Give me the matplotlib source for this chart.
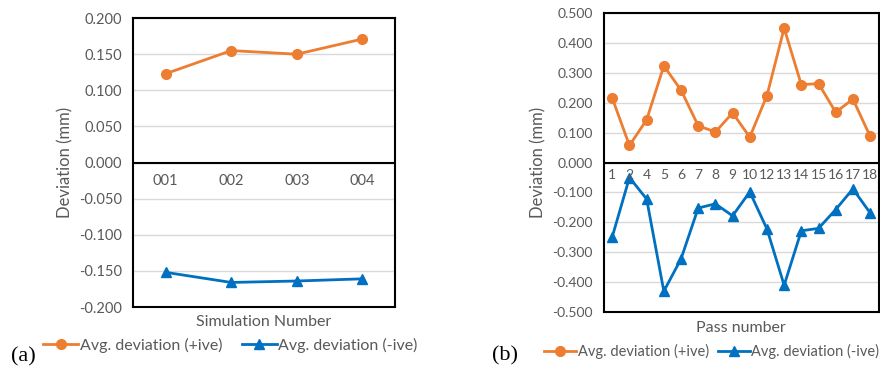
import matplotlib.pyplot as plt

# -------- DATA --------
sim_labels = ["001", "002", "003", "004"]
sim_pos = [0.123, 0.155, 0.150, 0.171]
sim_neg = [-0.152, -0.166, -0.164, -0.161]

pass_labels = ["1", "2", "4", "5", "6", "7", "8", "9", "10",
               "12", "13", "14", "15", "16", "17", "18"]
pass_pos = [0.215, 0.057, 0.143, 0.323, 0.242, 0.123, 0.102, 0.166, 0.085,
            0.224, 0.449, 0.260, 0.264, 0.168, 0.212, 0.088]
pass_neg = [-0.248, -0.050, -0.122, -0.430, -0.322, -0.152, -0.138, -0.178, -0.098,
            -0.222, -0.410, -0.228, -0.220, -0.157, -0.088, -0.168]

# -------- STYLE --------
ORANGE = "#ED7D31"
BLUE = "#0070C0"
GRAY = "#595959"
plt.rcParams["font.family"] = ["Lato", "DejaVu Sans"]

fig = plt.figure(figsize=(8.8, 3.69), dpi=100)


def draw_panel(ax, labels, pos, neg, ylim, step, xlabel, fs, cat_off):
    x = list(range(len(labels)))
    ax.plot(x, pos, color=ORANGE, lw=2, marker="o", ms=7, label="Avg. deviation (+ive)", zorder=3)
    ax.plot(x, neg, color=BLUE, lw=2, marker="^", ms=7, label="Avg. deviation (-ive)", zorder=3)
    ax.set_xlim(-0.5, len(labels) - 0.5)
    ax.set_ylim(*ylim)
    n = int(round((ylim[1] - ylim[0]) / step))
    ticks = [round(ylim[0] + i * step, 3) for i in range(n + 1)]
    ax.set_yticks(ticks)
    ax.set_yticklabels([f"{abs(t):.3f}" if abs(t) < 1e-9 else f"{t:.3f}" for t in ticks],
                       color=GRAY, fontsize=fs)
    ax.yaxis.grid(True, color="#d9d9d9", lw=1)
    ax.set_axisbelow(True)
    ax.tick_params(axis="y", length=0, pad=8)
    ax.set_xticks([])
    ax.axhline(0, color="black", lw=1.5, zorder=2)
    for s in ax.spines.values():
        s.set_color("black")
        s.set_linewidth(1.5)
    for i, lab in enumerate(labels):
        ax.annotate(lab, (i, 0), xytext=(0, -cat_off), textcoords="offset points",
                    ha="center", va="top", color=GRAY, fontsize=fs)
    ax.set_ylabel("Deviation (mm)", color=GRAY, fontsize=12)
    ax.set_xlabel(xlabel, color=GRAY, fontsize=11.5, labelpad=6)


ax1 = fig.add_axes([0.151, 0.168, 0.298, 0.783])
draw_panel(ax1, sim_labels, sim_pos, sim_neg, (-0.2, 0.2), 0.05, "Simulation Number", 10.5, 8)
ax1.legend(loc="center", bbox_to_anchor=(0.262, 0.065), bbox_transform=fig.transFigure,
           ncol=2, frameon=False, fontsize=11.5, labelcolor=GRAY, handlelength=2.2,
           handletextpad=0.1, columnspacing=1.2)

ax2 = fig.add_axes([0.686, 0.154, 0.3125, 0.811])
draw_panel(ax2, pass_labels, pass_pos, pass_neg, (-0.5, 0.5), 0.1, "Pass number", 10, 5)
ax2.legend(loc="center right", bbox_to_anchor=(0.999, 0.048), bbox_transform=fig.transFigure,
           ncol=2, frameon=False, fontsize=10.5, labelcolor=GRAY, handlelength=2.2,
           handletextpad=0.1, columnspacing=0.6, borderpad=0.0, borderaxespad=0.0)

fig.text(0.026, 0.032, "(a)", fontsize=16, family="Liberation Serif", va="center", ha="center")
fig.text(0.574, 0.035, "(b)", fontsize=16, family="Liberation Serif", va="center", ha="center")

fig.savefig("out.png", dpi=100)
